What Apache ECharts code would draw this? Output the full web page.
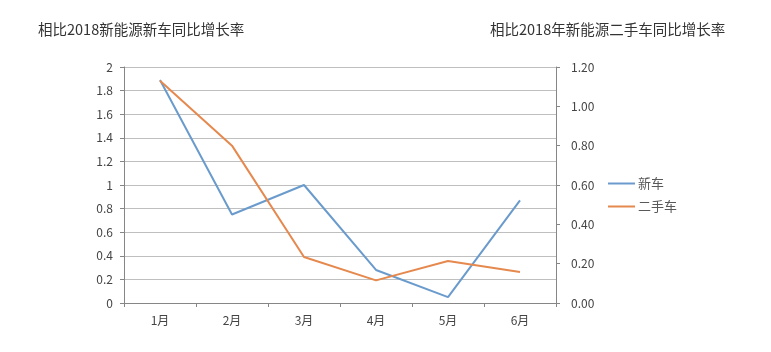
<!DOCTYPE html>
<html><head><meta charset="utf-8">
<script src="https://cdn.jsdelivr.net/npm/echarts@6/dist/echarts.min.js"></script>
<style>html,body{margin:0;padding:0;background:#fff}#c{width:771px;height:352px}</style>
</head><body><div id="c"></div>
<script>
const categories = ['1月','2月','3月','4月','5月','6月'];
const newCar = [1.89, 0.75, 1.0, 0.28, 0.05, 0.87];
const usedCar = [1.13, 0.80, 0.234, 0.115, 0.214, 0.158];
const leftTitle = '相比2018新能源新车同比增长率';
const rightTitle = '相比2018年新能源二手车同比增长率';
const font = '"Noto Sans CJK SC", sans-serif';
const chart = echarts.init(document.getElementById('c'));
chart.setOption({
  animation:false,
  backgroundColor:'#fff',
  title:[
    {text:leftTitle,left:33,top:17,textStyle:{fontSize:14.5,fontWeight:'normal',color:'#333',fontFamily:font}},
    {text:rightTitle,left:485,top:17,textStyle:{fontSize:14.5,fontWeight:'normal',color:'#333',fontFamily:font}}
  ],
  legend:{orient:'vertical',left:603,top:172,itemWidth:27,itemHeight:2,itemGap:10,icon:'rect',
    textStyle:{fontSize:13,color:'#595959',fontFamily:font,padding:[0,0,0,-2]},data:['新车','二手车']},
  grid:{left:124,right:215,top:67,bottom:49},
  xAxis:{type:'category',data:categories,boundaryGap:true,
    axisLine:{lineStyle:{color:'#868686'}},axisTick:{show:true,length:4,lineStyle:{color:'#868686'}},
    axisLabel:{fontSize:12,color:'#444',margin:11,fontFamily:font}},
  yAxis:[
    {type:'value',min:0,max:2,interval:0.2,position:'left',
     axisLine:{show:true,lineStyle:{color:'#868686'}},axisTick:{show:true,length:4,lineStyle:{color:'#868686'}},
     splitLine:{lineStyle:{color:'#bfbfbf'}},
     axisLabel:{fontSize:12,color:'#444',margin:11,fontFamily:font,formatter:v=>String(+v.toFixed(1))}},
    {type:'value',min:0,max:1.2,interval:0.2,position:'right',
     axisLine:{show:true,lineStyle:{color:'#868686'}},axisTick:{show:true,length:4,lineStyle:{color:'#868686'}},
     splitLine:{show:false},
     axisLabel:{fontSize:12,color:'#444',margin:15,fontFamily:font,formatter:v=>v.toFixed(2)}}
  ],
  series:[
    {name:'新车',type:'line',yAxisIndex:0,data:newCar,symbol:'none',lineStyle:{width:2,color:'#6a9bcc'},itemStyle:{color:'#6a9bcc'}},
    {name:'二手车',type:'line',yAxisIndex:1,data:usedCar,symbol:'none',lineStyle:{width:2,color:'#e5894e'},itemStyle:{color:'#e5894e'}}
  ]
});
</script></body></html>
